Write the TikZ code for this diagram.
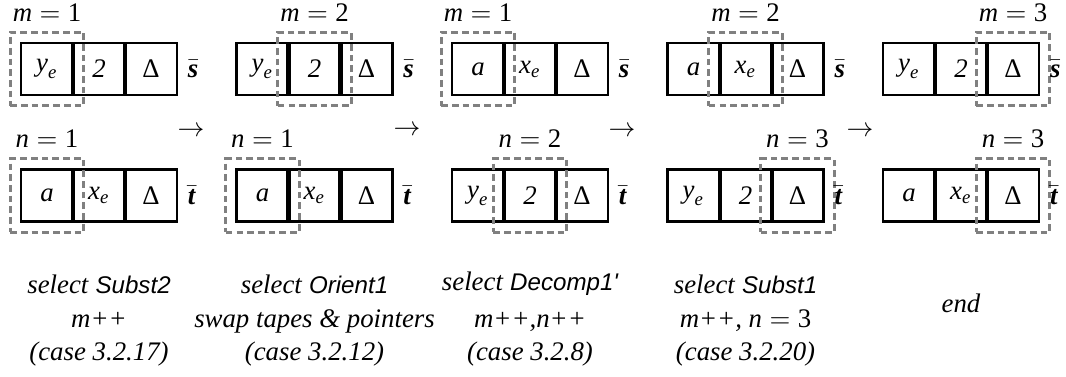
\documentclass[tikz,border=0pt]{standalone}
\usepackage{amsmath}
\usepackage{fontspec}
\setmainfont{Liberation Serif}
\newfontfamily\hsans{Liberation Sans}
\usetikzlibrary{fit}
\newcommand\Ye{$\text{\itshape y}_{\text{\itshape e}}$}
\newcommand\Xe{$\text{\itshape x}_{\text{\itshape e}}$}
\newcommand\Dl{Δ}
\newcommand\Tw{\textit{2}}
\newcommand\Aa{\textit{a}}
\newcommand\Eq[2]{$\text{\itshape #1}=\text{#2}$}
\newcommand\Sb{$\bar{\text{\bfseries\itshape s}}$}
\newcommand\Tb{$\bar{\text{\bfseries\itshape t}}$}
\newcommand\Sn[1]{{\hsans\itshape\fontsize{9pt}{11pt}\selectfont #1}}
\tikzset{
  cell/.style={draw, line width=0.95pt, minimum width=19.4pt, minimum height=19.4pt, inner sep=0pt, outer sep=0pt},
  divider/.style={line width=1.5pt},
  ptr/.style={draw=black!50, dash pattern=on 2.5pt off 1.5pt, line width=1.1pt, inner sep=4pt},
  captext/.style={anchor=base, inner sep=0pt},
}
% #1 name, #2 left x, #3 centre y, #4-#6 contents, #7 pointer cell (a/b/c), #8 pointer label, #9 tape name
\newcommand\tape[9]{%
  \node[cell] (#1a) at (#2+26,#3) {#4};
  \node[cell] (#1b) at (#2+78,#3) {#5};
  \node[cell] (#1c) at (#2+130,#3) {#6};
  \draw[divider] (#1a.north east) -- (#1a.south east);
  \draw[divider] (#1b.north east) -- (#1b.south east);
  \node[ptr, fit=(#1#7)] (#1p) {};
  \node[anchor=south] (#1l) at (#1p.north) {#8};
  \node[anchor=west, inner sep=0pt] (#1n) at ([xshift=3.9pt]#1c.east) {#9};
}
\begin{document}
\begin{tikzpicture}[x=0.37313pt, y=-0.37313pt]
\useasboundingbox (0,0) rectangle (1066,376);
% panel 1
\tape{Pas}{21}{69}{\Ye}{\Tw}{\Dl}{a}{\Eq{m}{1}}{\Sb}
\tape{Pat}{21}{195.5}{\Aa}{\Xe}{\Dl}{a}{\Eq{n}{1}}{\Tb}
% panel 2
\tape{Pbs}{236.5}{69}{\Ye}{\Tw}{\Dl}{b}{\Eq{m}{2}}{\Sb}
\tape{Pbt}{236.5}{195.5}{\Aa}{\Xe}{\Dl}{a}{\Eq{n}{1}}{\Tb}
% panel 3
\tape{Pcs}{452}{69}{\Aa}{\Xe}{\Dl}{a}{\Eq{m}{1}}{\Sb}
\tape{Pct}{452}{195.5}{\Ye}{\Tw}{\Dl}{b}{\Eq{n}{2}}{\Tb}
% panel 4
\tape{Pds}{667.5}{69}{\Aa}{\Xe}{\Dl}{b}{\Eq{m}{2}}{\Sb}
\tape{Pdt}{667.5}{195.5}{\Ye}{\Tw}{\Dl}{c}{\Eq{n}{3}}{\Tb}
% panel 5
\tape{Pes}{883}{69}{\Ye}{\Tw}{\Dl}{c}{\Eq{m}{3}}{\Sb}
\tape{Pet}{883}{195.5}{\Aa}{\Xe}{\Dl}{c}{\Eq{n}{3}}{\Tb}
% arrows
\node (ar1) at (191,132) {$\rightarrow$};
\node (ar2) at (407,131) {$\rightarrow$};
\node (ar3) at (622,132) {$\rightarrow$};
\node (ar4) at (860,132) {$\rightarrow$};
% captions
\node[captext] (ca1) at (99,293) {\textit{select} \Sn{Subst2}};
\node[captext] (ca2) at (99,327) {\textit{m++}};
\node[captext] (ca3) at (99,360) {\textit{(case 3.2.17)}};
\node[captext] (cb1) at (314.5,293) {\textit{select} \Sn{Orient1}};
\node[captext] (cb2) at (314.5,327) {\textit{swap tapes \& pointers}};
\node[captext] (cb3) at (314.5,360) {\textit{(case 3.2.12)}};
\node[captext] (cc1) at (530,290) {\textit{select} \Sn{Decomp1'}};
\node[captext] (cc2) at (530,327) {\textit{m++,n++}};
\node[captext] (cc3) at (530,360) {\textit{(case 3.2.8)}};
\node[captext] (cd1) at (745.5,293) {\textit{select} \Sn{Subst1}};
\node[captext] (cd2) at (745.5,327) {\textit{m++,} \Eq{n}{3}};
\node[captext] (cd3) at (745.5,360) {\textit{(case 3.2.20)}};
\node[captext] (ce1) at (961,312) {\textit{end}};
\end{tikzpicture}
\end{document}
